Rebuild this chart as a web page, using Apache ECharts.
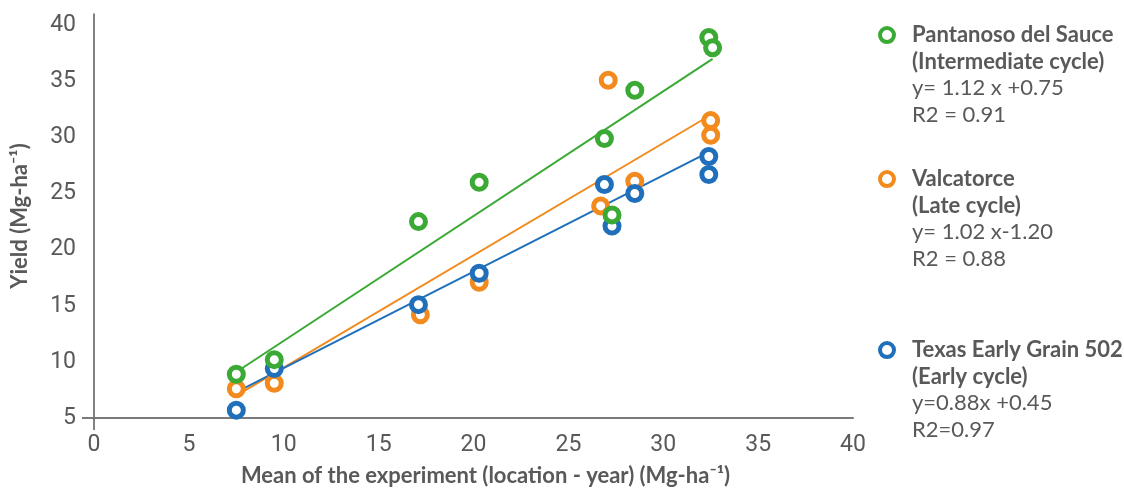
<!DOCTYPE html>
<html>
<head>
<meta charset="utf-8">
<script src="https://cdn.jsdelivr.net/npm/echarts@6/dist/echarts.min.js"></script>
<style>
  html, body { margin: 0; padding: 0; background: #fff; }
  #chart { width: 1124px; height: 488px; }
</style>
</head>
<body>
<div id="chart"></div>
<script>
// Yield vs. experiment mean, three sorghum cultivars
var names = ['Pantanoso del Sauce', 'Valcatorce', 'Texas Early Grain 502'];
var subtitles = ['(Intermediate cycle)', '(Late cycle)', '(Early cycle)'];
var equations = ['y= 1.12 x +0.75', 'y= 1.02 x-1.20', 'y=0.88x +0.45'];
var r2Labels = ['R2 = 0.91', 'R2 = 0.88', 'R2=0.97'];

var pantanosoX = [7.5, 9.5, 17.1, 20.3, 26.9, 27.3, 28.5, 32.4, 32.6];
var pantanosoY = [8.9, 10.2, 22.5, 26.0, 29.9, 23.1, 34.2, 38.9, 38.0];
var valcatorceX = [7.5, 9.5, 17.2, 20.3, 27.1, 26.7, 28.5, 32.5, 32.5];
var valcatorceY = [7.6, 8.1, 14.2, 17.1, 35.1, 23.9, 26.1, 31.5, 30.2];
var texasX = [7.5, 9.5, 17.1, 20.3, 26.9, 27.3, 28.5, 32.4, 32.4];
var texasY = [5.7, 9.4, 15.1, 17.9, 25.8, 22.1, 25.0, 28.3, 26.7];

// trend line ends
var pantanosoTrendX = [7.5, 32.6];
var pantanosoTrendY = [9.1, 37.0];
var valcatorceTrendX = [7.5, 32.3];
var valcatorceTrendY = [7.0, 31.8];
var texasTrendX = [7.5, 32.3];
var texasTrendY = [7.3, 28.6];

var colors = ['#3aaa35', '#f28a1e', '#1f6fba'];
var ink = '#595959';
var rule = '#c9c9c9';

function pairs(xs, ys) {
  return xs.map(function(x, i) { return [x, ys[i]]; });
}

var chart = echarts.init(document.getElementById('chart'), null, { renderer: 'canvas' });

function trend(name, xs, ys, color) {
  return {
    name: name,
    type: 'line',
    data: pairs(xs, ys),
    showSymbol: false,
    symbol: 'none',
    silent: true,
    z: 1,
    lineStyle: { color: color, width: 2 }
  };
}

function points(i, xs, ys, z) {
  return {
    name: names[i],
    type: 'scatter',
    data: pairs(xs, ys),
    symbol: 'circle',
    symbolSize: 14,
    z: z,
    itemStyle: { color: '#fff', borderColor: colors[i], borderWidth: 5, opacity: 1 }
  };
}

var legendTops = [24, 168, 339];
var legends = names.map(function(n, i) {
  return {
    data: [n],
    orient: 'vertical',
    left: 878,
    top: legendTops[i],
    padding: 0,
    itemWidth: 14,
    itemHeight: 14,
    selectedMode: false,
    icon: 'circle',
    itemStyle: { color: '#fff', borderColor: colors[i], borderWidth: 4 },
    formatter: function() {
      return '{t|' + names[i] + '}\n{t|' + subtitles[i] + '}\n{e|' + equations[i] + '}\n{e|' + r2Labels[i] + '}';
    },
    textStyle: {
      padding: [80, 0, 0, 13],
      rich: {
        t: { fontFamily: 'Lato', fontWeight: 'bold', fontSize: 22, color: ink, lineHeight: 26.7 },
        e: { fontFamily: 'Lato', fontSize: 22, color: ink, lineHeight: 26.7 }
      }
    }
  };
});

chart.setOption({
  animation: false,
  legend: legends,
  grid: { left: 94, right: 271, top: 14, bottom: 70, containLabel: false, outerBoundsMode: 'none' },
  xAxis: {
    type: 'value',
    min: 0,
    max: 40,
    interval: 5,
    name: 'Mean of the experiment (location - year) (Mg-ha\u207B\u00B9)',
    nameLocation: 'middle',
    nameGap: 47,
    nameTextStyle: { fontFamily: 'Lato', fontWeight: 'bold', fontSize: 22, color: ink, padding: [0, 0, 0, 24] },
    axisLine: { show: true, onZero: false, lineStyle: { color: '#7a7a7a', width: 2 } },
    axisTick: { show: true, customValues: [0], length: 12, lineStyle: { color: ink, width: 1.5 } },
    axisLabel: { color: ink, fontFamily: 'Roboto', fontSize: 23, margin: 16 },
    splitLine: { show: false }
  },
  yAxis: {
    type: 'value',
    min: 5,
    max: 41,
    interval: 5,
    name: 'Yield (Mg-ha\u207B\u00B9)',
    nameLocation: 'middle',
    nameGap: 63,
    nameTextStyle: { fontFamily: 'Lato', fontWeight: 'bold', fontSize: 22, color: ink },
    axisLine: { show: true, onZero: false, lineStyle: { color: ink, width: 1.5 } },
    axisTick: { show: true, customValues: [5], length: 12, lineStyle: { color: '#7a7a7a', width: 2 } },
    axisLabel: { color: ink, fontFamily: 'Roboto', fontSize: 23, margin: 18, showMaxLabel: false },
    splitLine: { show: true, showMinLine: false, showMaxLine: false, lineStyle: { color: rule, width: 1.5 } }
  },
  series: [
    trend('Pantanoso trend', pantanosoTrendX, pantanosoTrendY, colors[0]),
    trend('Valcatorce trend', valcatorceTrendX, valcatorceTrendY, colors[1]),
    trend('Texas trend', texasTrendX, texasTrendY, colors[2]),
    points(1, valcatorceX, valcatorceY, 3),
    points(2, texasX, texasY, 4),
    points(0, pantanosoX, pantanosoY, 5)
  ]
});
</script>
</body>
</html>
